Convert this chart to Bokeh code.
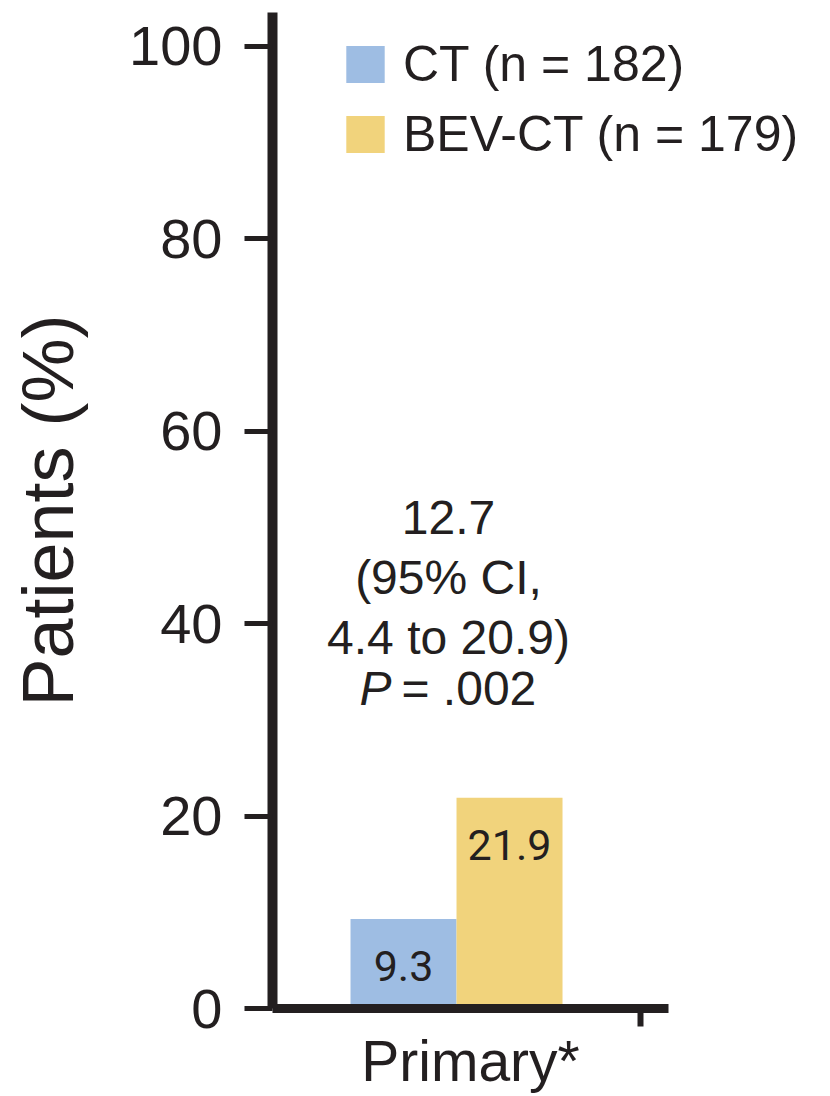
from bokeh.plotting import figure
from bokeh.models import (Range1d, FixedTicker, ColumnDataSource, LabelSet, Label,
                          LinearAxis)
from bokeh.core.properties import value
from bokeh.embed import file_html
from bokeh.resources import INLINE

# ---- data ----
groups = ["CT (n = 182)", "BEV-CT (n = 179)"]
values = [9.3, 21.9]
value_labels = ["9.3", "21.9"]
colors = ["#9ebde3", "#f1d37c"]
category = "Primary*"
y_ticks = [0, 20, 40, 60, 80, 100]
annot_lines = ["12.7", "(95% CI,", "4.4 to 20.9)"]
p_symbol = "P"
p_value = "= .002"

TXT = "#231f20"
FONT = "Liberation Sans"

idx = list(range(len(groups)))
src = ColumnDataSource(dict(x=idx, top=values, label=groups, color=colors,
                            txt=value_labels))

PX = 106.0  # pixels per category unit
pad = 0.736
x_start = idx[0] - 0.5 - pad
group_end = idx[-1] + 0.5 + pad
axis_end = idx[-1] + 0.5 + 1.0
x_end = x_start + (830 - 272) / PX
cat_pos = (x_start + axis_end) / 2

p = figure(width=830, height=1096, output_backend="svg", toolbar_location=None,
           x_range=Range1d(x_start, x_end), y_range=Range1d(0, 103.5),
           min_border_left=272, min_border_right=0, min_border_top=12,
           min_border_bottom=88)
p.outline_line_color = None
p.grid.visible = False
p.background_fill_color = "white"

p.vbar(x="x", top="top", width=1.0, color="color", line_color=None,
       source=src, legend_field="label")

# value labels inside bars
p.add_layout(LabelSet(x="x", y="top", text="txt", source=src, y_offset=-47,
                      text_align="center", text_baseline="middle",
                      text_font=value("Roboto"), text_font_size=value("43px"),
                      text_color=TXT))

# y axis
ya = p.yaxis[0]
ya.ticker = FixedTicker(ticks=y_ticks)
ya.axis_line_width = 10
ya.axis_line_color = TXT
ya.major_tick_line_width = 5
ya.major_tick_line_color = TXT
ya.major_tick_out = 28
ya.major_tick_in = 0
ya.minor_tick_line_color = None
ya.major_label_standoff = 22
ya.major_label_text_font = FONT
ya.major_label_text_font_size = "56px"
ya.major_label_text_color = TXT
ya.axis_label = "Patients (%)"
ya.axis_label_text_font = FONT
ya.axis_label_text_font_size = "72px"
ya.axis_label_text_font_style = "normal"
ya.axis_label_text_color = TXT
ya.axis_label_standoff = 38

# x axis (line + group separator tick)
xa = p.xaxis[0]
xa.bounds = (x_start, axis_end)
xa.ticker = FixedTicker(ticks=[group_end])
xa.major_label_overrides = {group_end: ""}
xa.axis_line_width = 9
xa.axis_line_color = TXT
xa.major_tick_line_width = 6
xa.major_tick_line_color = TXT
xa.major_tick_out = 18
xa.major_tick_in = 0
xa.minor_tick_line_color = None
xa.major_label_standoff = 0

# x axis category label
xa2 = LinearAxis(ticker=FixedTicker(ticks=[cat_pos]),
                 major_label_overrides={cat_pos: category},
                 axis_line_color=None, major_tick_line_color=None,
                 minor_tick_line_color=None, major_tick_out=0, major_tick_in=0,
                 major_label_standoff=2, major_label_text_font=FONT,
                 major_label_text_font_size="57px", major_label_text_color=TXT)
p.add_layout(xa2, "below")

# annotation text
def xd(px):
    return (px - 272) / PX + x_start

def yd(py):
    return (1008 - py) / 9.625

for line, py in zip(annot_lines, [517, 577, 637]):
    p.add_layout(Label(x=xd(448), y=yd(py), text=line, text_align="center",
                       text_baseline="alphabetic", text_font=FONT,
                       text_font_size="48px", text_color=TXT))
p.add_layout(Label(x=xd(391), y=yd(688), text=p_symbol, text_align="right",
                   text_baseline="alphabetic", text_font=FONT,
                   text_font_style="italic", text_font_size="48px", text_color=TXT))
p.add_layout(Label(x=xd(401), y=yd(688), text=p_value, text_align="left",
                   text_baseline="alphabetic", text_font=FONT,
                   text_font_size="48px", text_color=TXT))

# legend
lg = p.legend[0]
lg.location = (69, 845)
lg.border_line_color = None
lg.background_fill_alpha = 0
lg.padding = 0
lg.margin = 0
lg.spacing = 12
lg.glyph_width = 48
lg.glyph_height = 46
lg.label_standoff = 14
lg.label_text_font = FONT
lg.label_text_font_size = "50px"
lg.label_text_color = TXT

open("out.html", "w").write(file_html(p, INLINE))
